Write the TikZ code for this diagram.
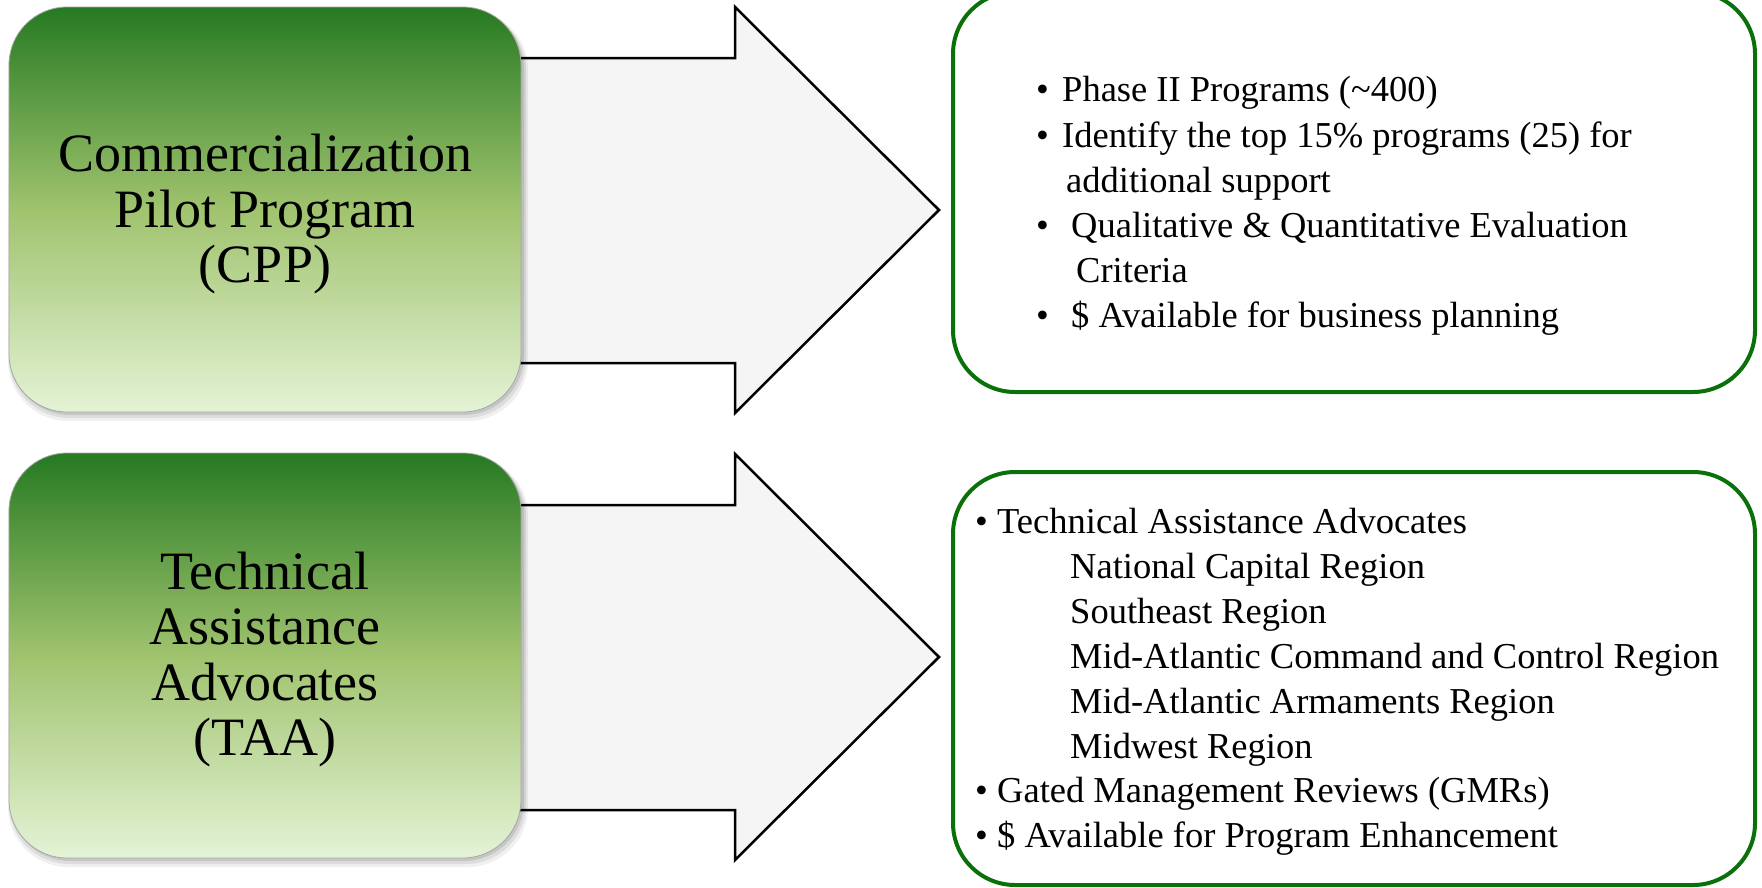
\documentclass[tikz,border=0pt]{standalone}
\usepackage{fontspec}
\setmainfont{Liberation Serif}
\usetikzlibrary{calc}
\definecolor{boxgreen}{RGB}{10,112,10}
\definecolor{gtop}{RGB}{38,122,34}
\definecolor{gmid}{RGB}{160,195,110}
\definecolor{gbot}{RGB}{228,243,214}
\definecolor{arrowfill}{RGB}{245,245,245}
\begin{document}
\begin{tikzpicture}[x=1pt,y=-1pt,
  leftbox/.style={rectangle, rounded corners=58pt, minimum width=512pt, minimum height=405pt,
    top color=gtop, bottom color=gbot, middle color=gmid, draw=black!35, line width=0.8pt, inner sep=0pt},
  lefttext/.style={align=center, inner sep=0pt, font=\fontsize{54}{55.5}\selectfont},
  infobox/.style={rectangle, rounded corners=62pt, minimum width=802pt, draw=boxgreen, line width=4pt, fill=white, inner sep=0pt},
  bigarrow/.style={draw=black, fill=arrowfill, line width=2.5pt, line join=miter},
  shadowfill/.style={fill=black, rounded corners=60pt},
  bul/.style={anchor=base west, inner sep=0pt, font=\fontsize{36.5}{45}\selectfont},
  itemtxt/.style={anchor=base west, inner sep=0pt, font=\fontsize{36.5}{45}\selectfont}
]
\useasboundingbox (0,0) rectangle (1762,887);

% arrows
\coordinate (tip1) at (939,210);
\coordinate (tip2) at (939,657);
\draw[bigarrow] ($(tip1)+(-439,-152)$) -- ($(tip1)+(-204,-152)$) -- ($(tip1)+(-204,-203)$) -- (tip1)
  -- ($(tip1)+(-204,203)$) -- ($(tip1)+(-204,153)$) -- ($(tip1)+(-439,153)$) -- cycle;
\draw[bigarrow] ($(tip2)+(-439,-152)$) -- ($(tip2)+(-204,-152)$) -- ($(tip2)+(-204,-203)$) -- (tip2)
  -- ($(tip2)+(-204,203)$) -- ($(tip2)+(-204,153)$) -- ($(tip2)+(-439,153)$) -- cycle;

% shadows of the left boxes
\fill[shadowfill, opacity=0.06] (8,10) rectangle (528,421);
\fill[shadowfill, opacity=0.08] (9,10) rectangle (526,418);
\fill[shadowfill, opacity=0.10] (10,9) rectangle (524,415);
\fill[shadowfill, opacity=0.06] (8,456) rectangle (528,867);
\fill[shadowfill, opacity=0.08] (9,456) rectangle (526,864);
\fill[shadowfill, opacity=0.10] (10,455) rectangle (524,861);

% left boxes
\node[leftbox] (cpp) at (265,209.5) {};
\node[lefttext, yshift=-5pt] (cpptext) at (cpp.center) {Commercialization\\Pilot Program\\(CPP)};
\node[leftbox] (taa) at (265,655.5) {};
\node[lefttext, yshift=-4pt] (taatext) at (taa.center) {Technical\\Assistance\\Advocates\\(TAA)};

% right boxes
\node[infobox, minimum height=400pt] (cppinfo) at (1354,192) {};
\node[infobox, minimum height=413pt] (taainfo) at (1354,678.5) {};

% text of the upper right box
\node[bul] (a1b) at (1036,101.5) {•};
\node[itemtxt] (a1) at (1062,101.5) {Phase II Programs (\textasciitilde400)};
\node[bul] (a2b) at (1036,147) {•};
\node[itemtxt] (a2) at (1062,147) {Identify the top 15\% programs (25) for};
\node[itemtxt] (a3) at (1066,192) {additional support};
\node[bul] (a4b) at (1036,237) {•};
\node[itemtxt] (a4) at (1071,237) {Qualitative \& Quantitative Evaluation};
\node[itemtxt] (a5) at (1076,282) {Criteria};
\node[bul] (a6b) at (1036,327) {•};
\node[itemtxt] (a6) at (1071,327) {\$ Available for business planning};

% text of the lower right box
\node[bul] (b1b) at (975,533) {•};
\node[itemtxt] (b1) at (997,533) {Technical Assistance Advocates};
\node[itemtxt] (b2) at (1070,578) {National Capital Region};
\node[itemtxt] (b3) at (1070,623) {Southeast Region};
\node[itemtxt] (b4) at (1070,668) {Mid-Atlantic Command and Control Region};
\node[itemtxt] (b5) at (1070,713) {Mid-Atlantic Armaments Region};
\node[itemtxt] (b6) at (1070,758) {Midwest Region};
\node[bul] (b7b) at (975,802) {•};
\node[itemtxt] (b7) at (997,802) {Gated Management Reviews (GMRs)};
\node[bul] (b8b) at (975,847) {•};
\node[itemtxt] (b8) at (997,847) {\$ Available for Program Enhancement};
\end{tikzpicture}
\end{document}
